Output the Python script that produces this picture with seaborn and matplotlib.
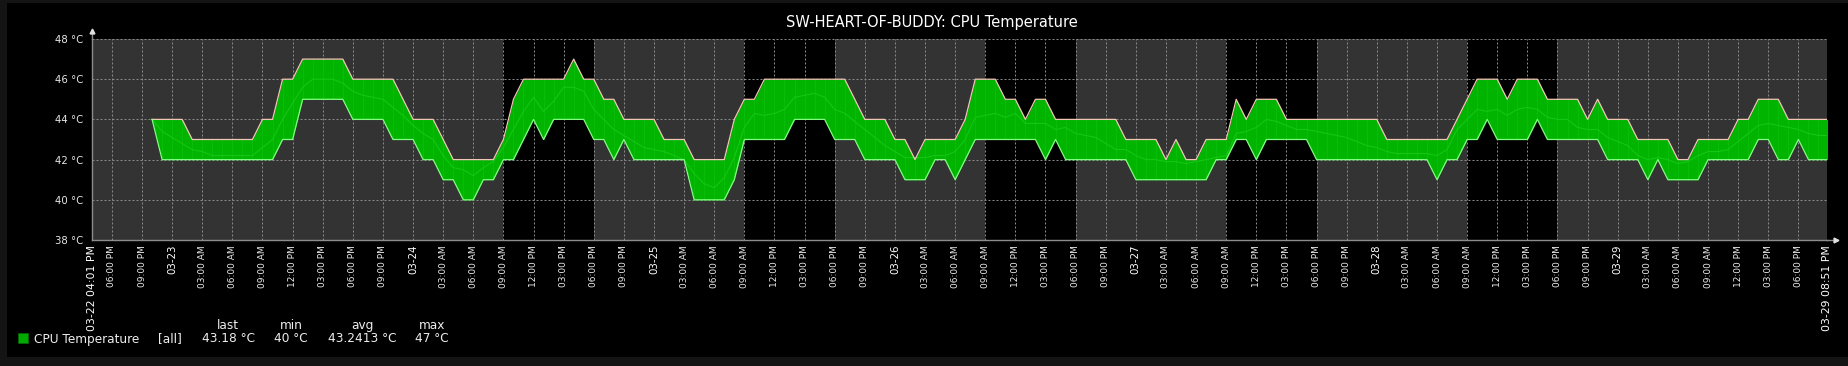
import matplotlib
matplotlib.use("Agg")
import matplotlib.pyplot as plt
import matplotlib.dates as mdates
import numpy as np
import pandas as pd
import seaborn as sns
from matplotlib.patches import Rectangle

# ---------------- data ----------------
title = "SW-HEART-OF-BUDDY: CPU Temperature"
series_name = "CPU Temperature"
range_start = "2019-03-22 16:01"
range_end = "2019-03-29 20:51"
first_sample = "2019-03-22 22:00"
work_days = ["2019-03-24", "2019-03-25", "2019-03-26", "2019-03-27", "2019-03-28"]
work_start_hour = 9
work_end_hour = 18
y_ticks = [38, 40, 42, 44, 46, 48]

max_vals = [44, 44, 44, 44, 43, 43, 43, 43, 43, 43, 43, 44, 44, 46, 46, 47, 47, 47, 47, 47,
            46, 46, 46, 46, 46, 45, 44, 44, 44, 43, 42, 42, 42, 42, 42, 43, 45, 46, 46, 46,
            46, 46, 47, 46, 46, 45, 45, 44, 44, 44, 44, 43, 43, 43, 42, 42, 42, 42, 44, 45,
            45, 46, 46, 46, 46, 46, 46, 46, 46, 46, 45, 44, 44, 44, 43, 43, 42, 43, 43, 43,
            43, 44, 46, 46, 46, 45, 45, 44, 45, 45, 44, 44, 44, 44, 44, 44, 44, 43, 43, 43,
            43, 42, 43, 42, 42, 43, 43, 43, 45, 44, 45, 45, 45, 44, 44, 44, 44, 44, 44, 44,
            44, 44, 44, 43, 43, 43, 43, 43, 43, 43, 44, 45, 46, 46, 46, 45, 46, 46, 46, 45,
            45, 45, 45, 44, 45, 44, 44, 44, 43, 43, 43, 43, 42, 42, 43, 43, 43, 43, 44, 44,
            45, 45, 45, 44, 44, 44, 44, 44]
min_vals = [44, 42, 42, 42, 42, 42, 42, 42, 42, 42, 42, 42, 42, 43, 43, 45, 45, 45, 45, 45,
            44, 44, 44, 44, 43, 43, 43, 42, 42, 41, 41, 40, 40, 41, 41, 42, 42, 43, 44, 43,
            44, 44, 44, 44, 43, 43, 42, 43, 42, 42, 42, 42, 42, 42, 40, 40, 40, 40, 41, 43,
            43, 43, 43, 43, 44, 44, 44, 44, 43, 43, 43, 42, 42, 42, 42, 41, 41, 41, 42, 42,
            41, 42, 43, 43, 43, 43, 43, 43, 43, 42, 43, 42, 42, 42, 42, 42, 42, 42, 41, 41,
            41, 41, 41, 41, 41, 41, 42, 42, 43, 43, 42, 43, 43, 43, 43, 43, 42, 42, 42, 42,
            42, 42, 42, 42, 42, 42, 42, 42, 41, 42, 42, 43, 43, 44, 43, 43, 43, 43, 44, 43,
            43, 43, 43, 43, 43, 42, 42, 42, 42, 41, 42, 41, 41, 41, 41, 42, 42, 42, 42, 42,
            43, 43, 42, 42, 43, 42, 42, 42]
avg_vals = [44.0, 43.4, 43.1, 42.8, 42.5, 42.4, 42.2, 42.2, 42.2, 42.2, 42.2, 42.6, 43.0, 44.0, 44.8,
            45.6, 46.0, 46.0, 46.0, 45.8, 45.4, 45.2, 45.1, 45.0, 44.6, 44.2, 43.7, 43.3, 43.0, 42.2,
            41.6, 41.5, 41.2, 41.6, 41.9, 42.6, 43.5, 44.4, 45.1, 44.4, 44.9, 45.6, 45.6, 45.4, 44.5,
            44.0, 43.5, 43.2, 42.9, 42.6, 42.5, 42.4, 42.2, 42.0, 41.3, 40.8, 40.6, 41.1, 42.1, 43.6,
            44.3, 44.2, 44.3, 44.5, 45.1, 45.2, 45.3, 45.1, 44.5, 44.3, 43.9, 43.5, 43.1, 42.7, 42.4,
            42.1, 42.1, 42.1, 42.2, 42.2, 42.4, 43.0, 44.1, 44.2, 44.3, 44.1, 44.3, 43.8, 43.8, 43.8,
            43.5, 43.6, 43.3, 43.2, 43.1, 42.8, 42.5, 42.5, 42.2, 42.0, 42.0, 41.9, 41.9, 41.8, 41.9,
            42.0, 42.1, 42.2, 43.3, 43.4, 43.6, 44.0, 43.9, 43.7, 43.5, 43.5, 43.4, 43.3, 43.2, 43.1,
            42.9, 42.7, 42.6, 42.4, 42.3, 42.3, 42.3, 42.3, 42.2, 42.5, 43.5, 44.0, 44.5, 44.4, 44.5,
            44.2, 44.5, 44.6, 44.5, 44.1, 44.0, 44.0, 43.6, 43.5, 43.5, 43.1, 42.9, 42.7, 42.2, 42.0,
            42.1, 42.0, 41.8, 41.9, 42.2, 42.4, 42.4, 42.5, 42.9, 43.3, 43.7, 43.8, 43.7, 43.6, 43.5,
            43.3, 43.2, 43.2]
legend_headers = ["last", "min", "avg", "max"]
legend_values = ["43.18 °C", "40 °C", "43.2413 °C", "47 °C"]
legend_scope = "[all]"

# ---------------- figure ----------------
W, H = 1848, 366
plt.rcParams["font.family"] = ["DejaVu Sans"]
fig = plt.figure(figsize=(W / 100, H / 100), dpi=100, facecolor="#141414")
fig.patches.append(Rectangle((7 / W, 9 / H), 1 - 7 / W, 354 / H, transform=fig.transFigure,
                             facecolor="black", edgecolor="none", zorder=-10))

ax = fig.add_axes([92 / W, 1 - 240 / H, (1827 - 92) / W, 201 / H])
ax.set_zorder(1)
ax.set_facecolor("#333333")

times = pd.date_range(first_sample, periods=len(max_vals), freq="h")
df = pd.DataFrame({"time": times, "max": max_vals, "min": min_vals, "avg": avg_vals})
t0 = pd.Timestamp(range_start)
t1 = pd.Timestamp(range_end)

# working time shading
for d in work_days:
    day = pd.Timestamp(d)
    ax.axvspan(day + pd.Timedelta(hours=work_start_hour), day + pd.Timedelta(hours=work_end_hour),
               color="black", lw=0, zorder=0.2)

# band + lines
ax.fill_between(df["time"], df["min"], df["max"], color="#00b400", lw=0, zorder=2)
ax.vlines(df["time"], df["min"], df["max"], color="#1fcc1f", lw=0.5, alpha=0.5, zorder=2.1)
sns.lineplot(data=df, x="time", y="avg", ax=ax, color="#16c616", lw=0.8, zorder=3)
sns.lineplot(data=df, x="time", y="max", ax=ax, color="#f2c6b6", lw=0.9, zorder=3.2)
sns.lineplot(data=df, x="time", y="min", ax=ax, color="#80ff80", lw=0.9, zorder=3.2)

ax.set_xlim(t0, t1)
ax.set_ylim(y_ticks[0], y_ticks[-1])
ax.set_xlabel("")
ax.set_ylabel("")

# y ticks
ax.set_yticks(y_ticks)
ax.set_yticklabels([f"{v} °C" for v in y_ticks])
ax.tick_params(axis="y", length=0, pad=6.5, labelsize=7.3, labelcolor="#e8e8e8")

# x ticks
grid_times = list(pd.date_range("2019-03-22 18:00", "2019-03-29 18:00", freq="3h"))
tick_times = [t0] + grid_times + [t1]
labels = []
kinds = []
for i, t in enumerate(tick_times):
    if i == 0 or i == len(tick_times) - 1:
        labels.append(t.strftime("%m-%d %I:%M %p"))
        kinds.append("edge")
    elif t.hour == 0:
        labels.append(t.strftime("%m-%d"))
        kinds.append("date")
    else:
        labels.append(t.strftime("%I:%M %p"))
        kinds.append("hour")
ax.set_xticks([mdates.date2num(t) for t in tick_times])
ax.set_xticklabels(labels, rotation=90, va="top", ha="center")
ax.tick_params(axis="x", length=0, pad=3.6, labelcolor="#ececec")
for lbl, k in zip(ax.get_xticklabels(), kinds):
    lbl.set_fontsize({"hour": 6.5, "date": 7.4, "edge": 7.8}[k])
    if k != "hour":
        lbl.set_color("white")

# grid
ax.set_axisbelow(True)
ax.grid(True, color="#8a8a8a", linestyle=(0, (2, 2)), linewidth=0.72)
for gl in ax.get_xgridlines() + ax.get_ygridlines():
    gl.set_zorder(0.5)

# spines
for s in ["top", "right"]:
    ax.spines[s].set_visible(False)
for s in ["left", "bottom"]:
    ax.spines[s].set_color("#8c8c8c")
    ax.spines[s].set_linewidth(1.0)
    ax.spines[s].set_zorder(4)

# axis arrows
ax.plot([0, 0], [1, 1.03], transform=ax.transAxes, color="#8c8c8c", lw=1, clip_on=False)
ax.plot([0], [1.04], marker="^", ms=3.5, color="#e0e0e0", transform=ax.transAxes, clip_on=False)
ax.plot([1, 1.0035], [0, 0], transform=ax.transAxes, color="#8c8c8c", lw=1, clip_on=False)
ax.plot([1.005], [0], marker=">", ms=3.5, color="#e0e0e0", transform=ax.transAxes, clip_on=False)

# title
def fx(x):
    return x / W

def fy(y):
    return 1 - y / H

fig.text(fx(931.5), fy(27), title, ha="center", va="baseline", fontsize=10.5, color="white")

# legend
fig.patches.append(Rectangle((fx(18), fy(343)), 10 / W, 10 / H, transform=fig.transFigure,
                             facecolor="#00aa00", edgecolor="#006600", lw=0.6, zorder=5))
LEG = 8.7
fig.text(fx(33.5), fy(342.5), series_name, ha="left", va="baseline", fontsize=LEG, color="#eeeeee")
fig.text(fx(170), fy(342.5), legend_scope, ha="center", va="baseline", fontsize=LEG, color="#eeeeee")
header_x = [228, 291, 362, 432]
for hx, h, v in zip(header_x, legend_headers, legend_values):
    fig.text(fx(hx), fy(329), h, ha="center", va="baseline", fontsize=LEG, color="#eeeeee")
    fig.text(fx(hx), fy(342.5), v, ha="center", va="baseline", fontsize=LEG, color="#eeeeee")

fig.savefig("out.png", dpi=100, facecolor=fig.get_facecolor())
